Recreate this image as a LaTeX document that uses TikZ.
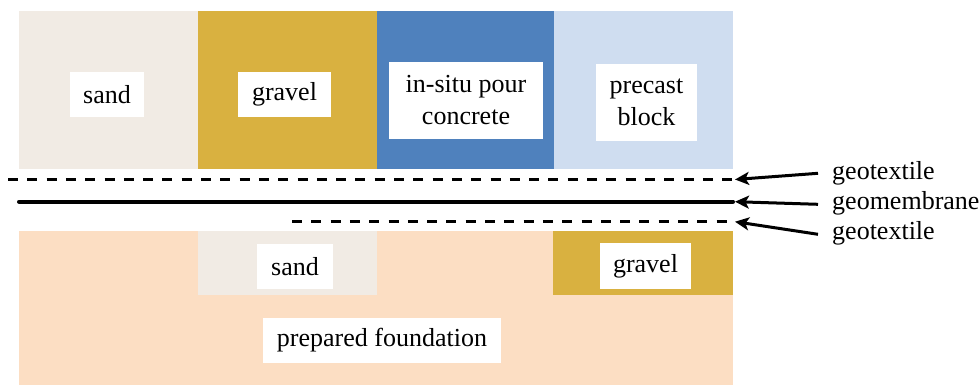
\documentclass[tikz,border=0pt]{standalone}
\usepackage{fontspec}
\setmainfont{Liberation Serif}
\usetikzlibrary{arrows.meta}
\definecolor{sandc}{HTML}{F1EBE4}
\definecolor{gravelc}{HTML}{D9B140}
\definecolor{concc}{HTML}{4F81BD}
\definecolor{precc}{HTML}{CFDDF0}
\definecolor{foundc}{HTML}{FCDEC3}
\tikzset{
  lbl/.style={fill=white, inner sep=0pt, align=center, font=\fontsize{26}{32}\selectfont},
  side/.style={inner sep=0pt, anchor=west, font=\fontsize{26}{32}\selectfont},
  geodash/.style={line width=3.4pt, dash pattern=on 10pt off 9.3pt},
  geosolid/.style={line width=4pt, line cap=round},
  arr/.style={line width=3pt, -{Stealth[length=14pt,width=13pt,inset=3.5pt]}}
}
\begin{document}
\begin{tikzpicture}[x=1pt,y=-1pt]
\useasboundingbox (0,0) rectangle (980,385);
% top row
\fill[sandc] (19,11) rectangle (198,169);
\fill[gravelc] (198,11) rectangle (377,169);
\fill[concc] (377,11) rectangle (554,169);
\fill[precc] (554,11) rectangle (733,169);
% bottom
\fill[foundc] (19,231) rectangle (733,385);
\fill[sandc] (198,231) rectangle (377,295);
\fill[gravelc] (553,231) rectangle (733,295);
% labels
\node[lbl, minimum width=74pt, minimum height=45pt] (sand1) at (107,94.5) {sand};
\node[lbl, minimum width=93pt, minimum height=45pt] (grav1) at (284.5,94.5) {gravel};
\node[lbl, minimum width=154pt, minimum height=77pt] (conc) at (466,100.5) {in-situ pour\\concrete};
\node[lbl, minimum width=101pt, minimum height=77pt] (prec) at (646.5,102.5) {precast\\block};
\node[lbl, minimum width=76pt, minimum height=45pt] (sand2) at (295,266.5) {sand};
\node[lbl, minimum width=91pt, minimum height=46pt] (grav2) at (645.5,266) {gravel};
\node[lbl, minimum width=238pt, minimum height=45pt] (found) at (382,340.5) {prepared foundation};
% layers
\coordinate (d1s) at (8,179.5);
\coordinate (d1e) at (735,179.5);
\coordinate (m1s) at (19,201.7);
\coordinate (m1e) at (735,201.7);
\coordinate (d2s) at (292,221.7);
\coordinate (d2e) at (735,221.7);
\draw[geodash] (d1s) -- (733,179.5);
\draw[geosolid] (m1s) -- (733,201.7);
\draw[geodash] (d2s) -- (733,221.7);
% side labels
\node[side] (gt1) at (832,173) {geotextile};
\node[side] (gm) at (832,203) {geomembrane};
\node[side] (gt2) at (832,233) {geotextile};
\draw[arr] ([xshift=-14pt,yshift=-0.3pt]gt1.west) -- (d1e);
\draw[arr] ([xshift=-14pt,yshift=-1.3pt]gm.west) -- (m1e);
\draw[arr] ([xshift=-14pt,yshift=-1.3pt]gt2.west) -- (d2e);
\end{tikzpicture}
\end{document}
